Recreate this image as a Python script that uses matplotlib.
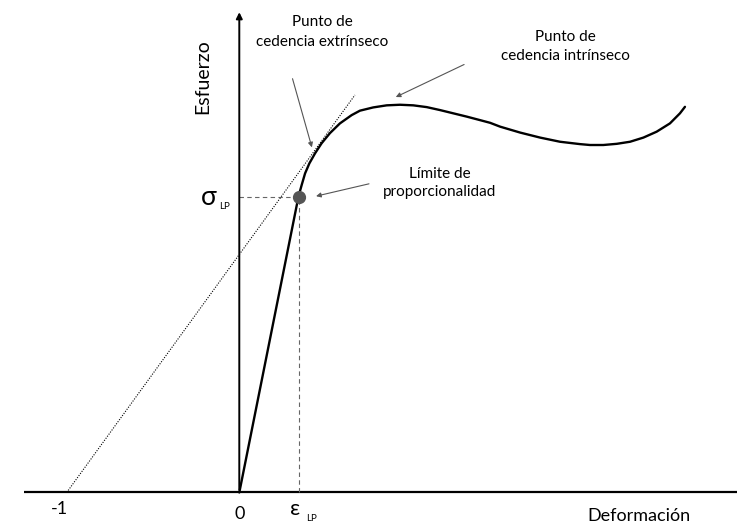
import matplotlib.pyplot as plt
import numpy as np

plt.rcParams['font.family'] = ['Lato', 'DejaVu Sans']

# curva esfuerzo-deformacion (unidades normalizadas: sigma_LP = 1, corte de la tangente en -1)
deformacion = [0.000, 0.343, 0.3615, 0.381, 0.406, 0.439, 0.477, 0.525, 0.583, 0.651,
               0.699, 0.776, 0.854, 0.931, 1.008, 1.086, 1.163, 1.240, 1.317, 1.395,
               1.453, 1.511, 1.627, 1.743, 1.858, 1.974, 2.032, 2.109, 2.187, 2.264,
               2.341, 2.418, 2.495, 2.553, 2.582]
esfuerzo = [0.000, 1.000, 1.039, 1.078, 1.112, 1.146, 1.180, 1.214, 1.247, 1.275,
            1.290, 1.301, 1.308, 1.310, 1.308, 1.302, 1.292, 1.281, 1.270, 1.258,
            1.249, 1.236, 1.216, 1.199, 1.185, 1.177, 1.174, 1.174, 1.178, 1.185,
            1.199, 1.219, 1.247, 1.281, 1.303]

eps_lp = 0.343
sig_lp = 1.000
# recta tangente (punto de cedencia extrinseco)
tang_x = [-1.0, 0.670]
tang_y = [0.0, 1.343]

fig = plt.figure(figsize=(7.37, 5.31), dpi=100)
ax = fig.add_axes([0, 0, 1, 1])
ax.set_xlim(-1.3864, 2.8835)
ax.set_ylim(-0.1301, 1.6639)
ax.axis('off')

# ejes
ax.plot([-1.248, 2.8835], [0, 0], color='black', lw=1.6, solid_capstyle='butt')
ax.annotate('', xy=(0, 1.632), xytext=(0, 0),
            arrowprops=dict(arrowstyle='-|>', color='black', lw=1.4, mutation_scale=9))

# lineas auxiliares
ax.plot([0, eps_lp], [sig_lp, sig_lp], color='#666666', lw=0.8, dashes=(4, 3))
ax.plot([eps_lp, eps_lp], [0, sig_lp], color='#666666', lw=0.8, dashes=(4, 3))
ax.plot(tang_x, tang_y, color='black', lw=0.8, dashes=(1, 1.3))

ax.plot(deformacion, esfuerzo, color='black', lw=1.7,
        solid_capstyle='round', solid_joinstyle='round')
ax.plot([eps_lp], [sig_lp], 'o', color='#555555', ms=8.5)

# etiquetas de los ejes
ax.text(-0.210, 1.405, 'Esfuerzo', rotation=90, ha='center', va='center', fontsize=14)
ax.text(2.317, -0.078, 'Deformación', ha='center', va='center', fontsize=13)
ax.text(-1.04, -0.055, '-1', ha='center', va='center', fontsize=13)
ax.text(0.0, -0.073, '0', ha='center', va='center', fontsize=13)
ax.text(-0.175, 0.998, 'σ', ha='center', va='center', fontsize=19)
ax.text(-0.086, 0.967, 'LP', ha='center', va='center', fontsize=7)
ax.text(0.322, -0.056, 'ε', ha='center', va='center', fontsize=16)
ax.text(0.418, -0.087, 'LP', ha='center', va='center', fontsize=7)

# anotaciones
flecha = dict(arrowstyle='-|>', color='#555555', lw=0.8, mutation_scale=7)
ax.text(0.479, 1.556, 'Punto de\ncedencia extrínseco', ha='center', va='center',
        fontsize=11, linespacing=1.5)
ax.annotate('', xy=(0.425, 1.157), xytext=(0.304, 1.407), arrowprops=flecha)
ax.text(1.887, 1.507, 'Punto de\ncedencia intrínseco', ha='center', va='center',
        fontsize=11, linespacing=1.4)
ax.annotate('', xy=(0.892, 1.332), xytext=(1.317, 1.450), arrowprops=flecha)
ax.text(1.163, 1.046, 'Límite de\nproporcionalidad', ha='center', va='center',
        fontsize=11, linespacing=1.3)
ax.annotate('', xy=(0.429, 0.999), xytext=(0.767, 1.045), arrowprops=flecha)

plt.savefig('out.png', dpi=100)
